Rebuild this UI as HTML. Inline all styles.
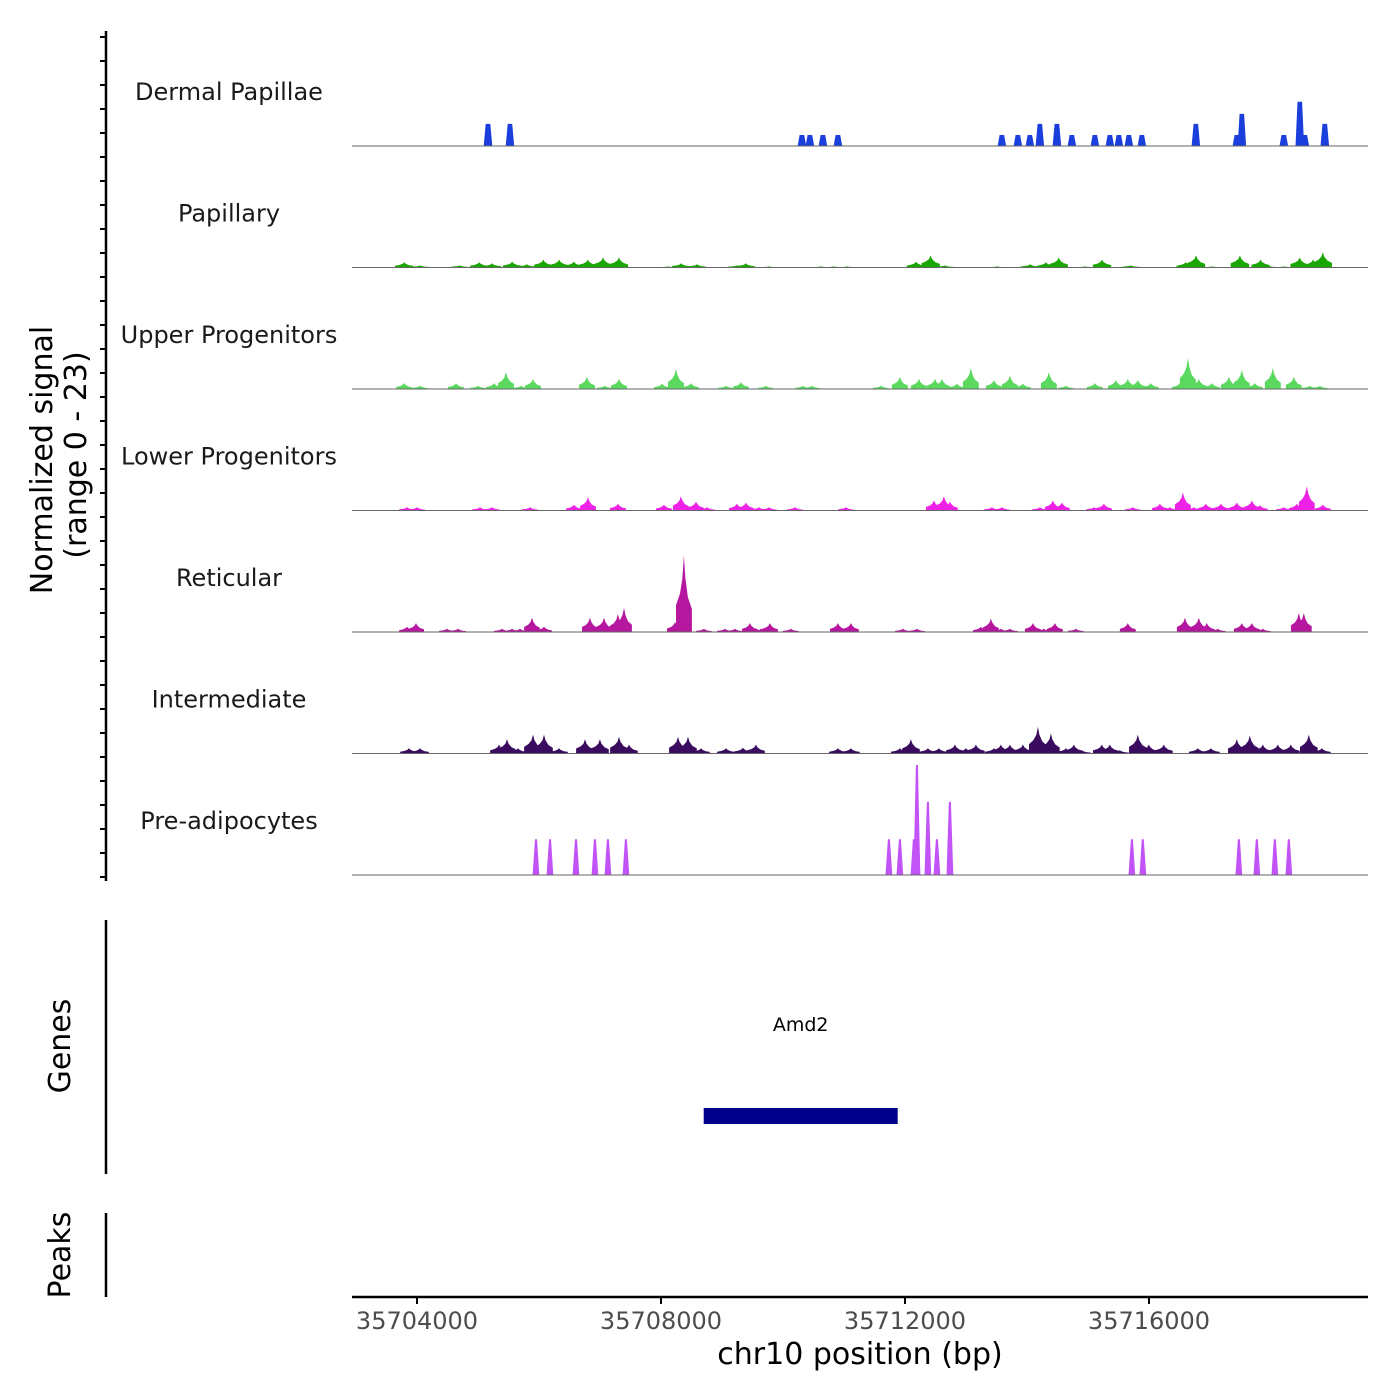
<!DOCTYPE html>
<html><head><meta charset="utf-8"><style>
html,body{margin:0;padding:0;background:#fff;}
svg{display:block;font-family:"DejaVu Sans","Liberation Sans",sans-serif;}
</style></head><body>
<svg id="chart" width="1400" height="1400" viewBox="0 0 1400 1400" xmlns="http://www.w3.org/2000/svg">
<g id="tracks"></g>
<g id="yaxis"></g>
<text transform="translate(52,460) rotate(-90)" text-anchor="middle" font-size="30" fill="#000">Normalized signal</text>
<text transform="translate(86,455) rotate(-90)" text-anchor="middle" font-size="30" fill="#000">(range 0 - 23)</text>
<line x1="106" y1="920" x2="106" y2="1174" stroke="#000" stroke-width="2.5"/>
<text transform="translate(70,1046) rotate(-90)" text-anchor="middle" font-size="30" fill="#000">Genes</text>
<g id="genes"></g>
<line x1="106" y1="1213" x2="106" y2="1297" stroke="#000" stroke-width="2.5"/>
<text transform="translate(70,1255) rotate(-90)" text-anchor="middle" font-size="30" fill="#000">Peaks</text>
<g id="xaxis"></g>
<text x="860" y="1364" text-anchor="middle" font-size="30" fill="#000">chr10 position (bp)</text>
</svg>
<script>
const regionStart = 35704000;
const xTicks = [35704000, 35708000, 35712000, 35716000];
const trackNames = ["Dermal Papillae","Papillary","Upper Progenitors","Lower Progenitors","Reticular","Intermediate","Pre-adipocytes"];
// peak offsets (bp from regionStart) and heights (normalized signal units)
const dermalPos = [1164,1524,6310,6441,6654,6900,9588,9850,10047,10211,10490,10735,11112,11358,11506,11670,11883,12768,13440,13522,14210,14472,14554,14882];
const dermalVal = [4.2,4.2,2.1,2.1,2.1,2.1,2.1,2.1,2.1,4.2,4.2,2.1,2.1,2.1,2.1,2.1,2.1,4.2,2.1,6.1,2.1,8.4,2.1,4.2];
const papPos = [-210,50,700,1020,1230,1560,1800,2070,2330,2570,2800,3050,3310,4110,4330,4590,5240,5390,5770,6620,6830,7050,8180,8420,8650,9510,10050,10310,10520,10950,11230,11700,12600,12770,13030,13490,13830,14000,14210,14470,14690,14850];
const papVal = [1,0.4,0.4,1,0.8,1.1,0.6,1.5,1.5,1.1,1.5,1.9,1.9,0.2,0.8,0.6,0.4,0.8,0.2,0.2,0.2,0.2,1.1,2.3,0.4,0.2,0.6,1,1.9,0.2,1.5,0.4,1,2.3,0.2,2.3,1.5,0.2,0.2,1.9,1.5,2.9];
const upPos = [-213,49,639,1000,1262,1459,1705,1901,2786,3081,3311,4016,4245,4491,5065,5310,5720,6327,6474,7605,7916,8228,8490,8605,8851,9080,9457,9719,9932,10358,10637,11112,11456,11653,11817,12030,12506,12637,12817,13030,13309,13522,13735,14030,14374,14636,14800];
const upVal = [1.1,0.6,1.1,0.6,1.1,3.2,0.6,1.9,2.3,0.6,1.9,1,3.8,1.1,0.6,1.3,0.6,0.6,0.6,0.6,2.3,1.9,1.9,1.9,1,4,1.7,2.5,1,3.2,0.6,1.1,1.7,1.9,1.7,1.1,1.1,5.9,1.9,1.1,2.3,3.6,1.1,4,2.3,0.6,0.6];
const lowPos = [-164,0,1033,1229,1852,2573,2803,3294,4048,4327,4573,4753,5245,5392,5605,5769,6195,7031,8474,8637,8736,9424,9588,10211,10424,10572,11096,11260,11735,12178,12342,12555,12735,12932,13178,13440,13686,13817,14210,14423,14587,14849];
const lowVal = [0.6,0.6,0.6,0.6,0.6,1.1,2.5,1.3,1.1,2.7,1.7,0.6,1.3,1.5,0.6,0.6,0.6,0.6,1.9,2.7,1.7,0.6,0.6,0.6,1.9,1.5,0.6,1.3,0.6,1.3,0.6,3.4,0.6,1.3,1.3,1.5,1.9,1,0.6,1.3,4.6,1.1];
const retPos = [-164,-16,492,672,1393,1557,1688,1885,2082,2835,3065,3294,3393,4229,4376,4704,5048,5212,5458,5638,5786,6130,6900,7113,7966,8195,9244,9408,9572,9719,10096,10276,10457,10801,11653,12588,12817,12948,13128,13522,13686,13866,14456,14538];
const retVal = [1,1.7,0.6,0.6,0.6,0.6,0.6,2.7,1,2.7,2.7,3.4,4.6,1.9,14.6,0.6,0.6,0.6,1.7,0.6,1.7,0.6,1.7,1.7,0.6,0.6,1,2.5,0.6,0.6,1.7,0.6,1.7,0.6,1.7,2.7,2.7,1.7,0.6,1.7,1.7,0.6,3.6,3.6];
const intPos = [-131,49,1344,1475,1655,1901,2082,2327,2754,2999,3311,3475,4278,4442,4655,5065,5343,5556,6900,7113,7916,8097,8375,8556,8818,8998,9162,9457,9572,9719,9932,10178,10391,10637,10768,10899,11227,11358,11522,11817,11997,12243,12800,13014,13440,13653,13866,14112,14325,14620,14833];
const intVal = [1,1,1.7,2.7,1,3.6,3.6,1,2.7,2.7,3.2,1.7,3.2,3.2,1,1,1.1,1.7,1,1,1,2.7,1,1,1.7,1,1.7,1,1.7,1.7,1.7,5.1,3.8,1,1.7,0.6,1.7,1.7,0.6,3.6,1.7,1.7,1,1,2.7,3.4,1.7,1.7,1.7,3.6,1];
const prePos = [1950,2180,2606,2917,3130,3425,7736,7916,8146,8195,8195,8375,8523,8736,11719,11899,13473,13768,14063,14292];
const preVal = [6.8,6.8,6.8,6.8,6.8,6.8,6.8,6.8,6.8,13.9,20.9,13.9,6.8,13.9,6.8,6.8,6.8,6.8,6.8,6.8];
const geneName = ["Amd2"];
const geneStart = [35708700];
const geneEnd = [35711880];

const trackPos = [dermalPos,papPos,upPos,lowPos,retPos,intPos,prePos];
const trackVal = [dermalVal,papVal,upVal,lowVal,retVal,intVal,preVal];
const colors = ["#1a3fdc","#1aa600","#5ad95e","#ee22e6","#b5179e","#3a0b5f","#c253f7"];
const shapes = ["flat","peak","peak","peak","peak","peak","bar"];
const widths = [140,300,260,260,260,290,110];

const NS="http://www.w3.org/2000/svg";
const bpPerPx = 4000/244;
function xScale(bp){ return 417 + (bp - 35704000)/bpPerPx; }
function yScale(v, base){ return base - v*121/23; }
function el(tag, attrs, parent){ const e=document.createElementNS(NS,tag); for(const k in attrs) e.setAttribute(k,attrs[k]); parent.appendChild(e); return e; }

const tracks=document.getElementById('tracks');
trackNames.forEach((name,i)=>{
  const base = 146 + i*121.5;
  const g = el('g',{},tracks);
  
  
  const lab = el('text',{x:229,y:base-46,'text-anchor':'middle','font-size':24,fill:'#1a1a1a'},g);
  lab.textContent = name;
  
  
  trackPos[i].forEach((p,j)=>{
    const c = regionStart + p, v = trackVal[i][j], w = widths[i];
    const x0 = xScale(c - w/2), x1 = xScale(c + w/2), xc = xScale(c);
    const yb = base, yt = yScale(v, base);
    const q = (x1-x0)/4;
    let pts;
    if(shapes[i]==='flat') pts=[[x0,yb],[x0+2,yt],[x1-2,yt],[x1,yb]];
    else if(shapes[i]==='bar') pts=[[x0,yb],[xc-1,yt],[xc+1,yt],[x1,yb]];
    else pts=[[x0,yb],[x0,yScale(v*0.35,base)],[x0+q,yScale(v*0.5,base)],[xc-1.5,yScale(v*0.7,base)],[xc,yt],[xc+1.5,yScale(v*0.7,base)],[x1-q,yScale(v*0.45,base)],[x1,yScale(v*0.3,base)],[x1,yb]];
    const poly = el('polygon',{points:pts.map(q=>q[0].toFixed(1)+','+q[1].toFixed(1)).join(' '),fill:colors[i]},g);
    
    
  });
  const bl = el('line',{x1:352,x2:1368,y1:base,y2:base,stroke:'#666',"stroke-width":1},g);
  
  
});

const ya=document.getElementById('yaxis');
el('line',{x1:106,y1:31,x2:106,y2:881,stroke:'#000','stroke-width':2.5},ya);
for(let k=0;k<36;k++){
  const y=37+k*24;
  const t=el('line',{x1:100,x2:106,y1:y,y2:y,stroke:'#000','stroke-width':2},ya);
  
  
}

const gg=document.getElementById('genes');
geneName.forEach((n,i)=>{
  const r=el('rect',{x:xScale(geneStart[i]),y:1108,width:xScale(geneEnd[i])-xScale(geneStart[i]),height:16,fill:'#00008b'},gg);
  
  
  const t=el('text',{x:(xScale(geneStart[i])+xScale(geneEnd[i]))/2,y:1031,'text-anchor':'middle','font-size':19,fill:'#000'},gg);
  t.textContent=n;
  
  
});

const xa=document.getElementById('xaxis');
el('line',{x1:352,x2:1368,y1:1297,y2:1297,stroke:'#000','stroke-width':2.5},xa);
xTicks.forEach(v=>{
  const x=xScale(v);
  const t=el('line',{x1:x,x2:x,y1:1297,y2:1304,stroke:'#000','stroke-width':2},xa);
  
  
  const l=el('text',{x:x,y:1329,'text-anchor':'middle','font-size':24,fill:'#4d4d4d'},xa);
  l.textContent=String(v);
  
  
});
</script>
</body></html>
